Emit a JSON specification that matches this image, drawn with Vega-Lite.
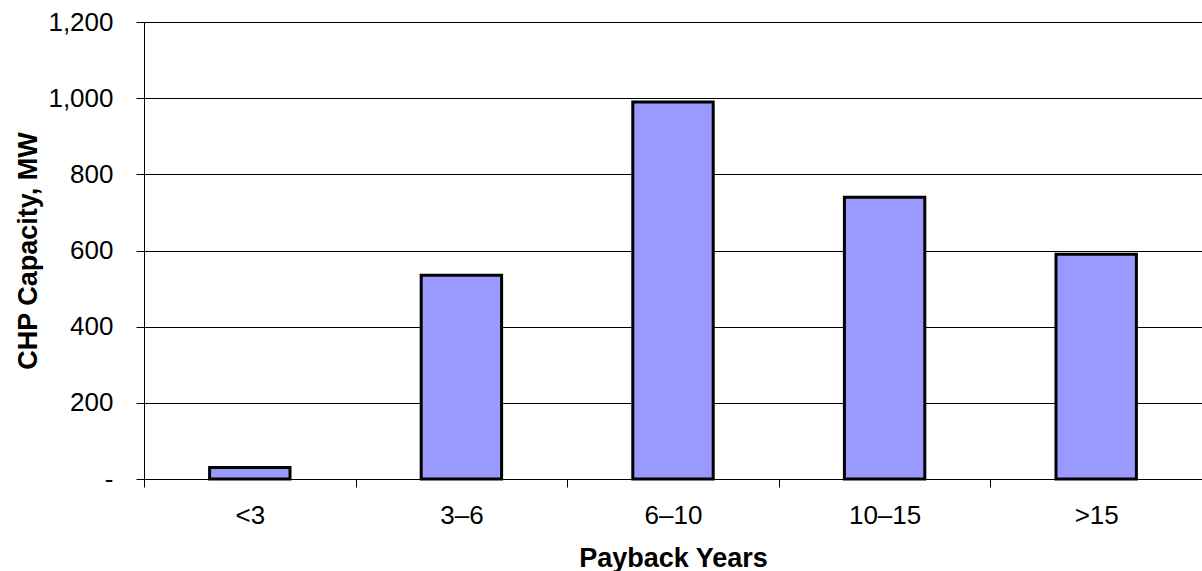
{
  "$schema": "https://vega.github.io/schema/vega-lite/v6.json",
  "width": 1058,
  "height": 457,
  "autosize": {"type": "none"},
  "padding": {"left": 144, "top": 22, "right": 0, "bottom": 92},
  "background": "white",
  "config": {"view": {"stroke": null}, "font": "Liberation Sans"},
  "data": {"values": [
    {"payback": "<3", "capacity": 30},
    {"payback": "3–6", "capacity": 535},
    {"payback": "6–10", "capacity": 990},
    {"payback": "10–15", "capacity": 740},
    {"payback": ">15", "capacity": 590}
  ]},
  "mark": {"type": "bar", "fill": "#9999FF", "stroke": "black", "strokeWidth": 3, "width": {"band": 0.38}},
  "encoding": {
    "x": {
      "field": "payback", "type": "nominal", "sort": null,
      "scale": {"paddingInner": 0, "paddingOuter": 0},
      "axis": {
        "title": "Payback Years", "titleFontSize": 27, "titleFontWeight": "bold", "titleColor": "black", "titlePadding": 17,
        "labelAngle": 0, "labelFontSize": 26, "labelColor": "black", "labelPadding": 15,
        "tickBand": "extent", "tickSize": 8, "tickColor": "black", "domainColor": "black", "grid": false
      }
    },
    "y": {
      "field": "capacity", "type": "quantitative",
      "scale": {"domain": [0, 1200], "nice": false},
      "axis": {
        "values": [0, 200, 400, 600, 800, 1000, 1200],
        "labelExpr": "datum.value == 0 ? '-' : format(datum.value, ',')",
        "title": "CHP Capacity, MW", "titleFontSize": 27, "titleFontWeight": "bold", "titleColor": "black", "titlePadding": 5,
        "labelFontSize": 26, "labelColor": "black", "labelPadding": 23,
        "tickSize": 8, "tickColor": "black", "domainColor": "black",
        "grid": true, "gridColor": "black", "gridWidth": 1, "gridOpacity": 1
      }
    }
  }
}
